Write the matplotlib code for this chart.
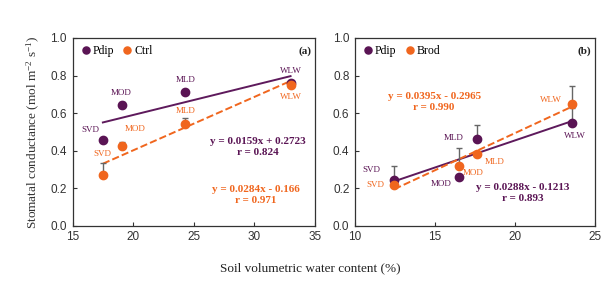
import matplotlib.pyplot as plt
import numpy as np

PURPLE = '#5a1454'
ORANGE = '#f0661e'
SERIF = 'Liberation Serif'

plt.rcParams['mathtext.fontset'] = 'custom'
plt.rcParams['mathtext.rm'] = SERIF
plt.rcParams['mathtext.it'] = SERIF + ':italic'
plt.rcParams['mathtext.default'] = 'rm'

# panel (a)
a_x = [17.5, 19.05, 24.3, 33.0]
a_pdip = [0.456, 0.642, 0.713, 0.762]
a_pdip_err = [0.0, 0.02, 0.0, 0.01]
a_ctrl = [0.270, 0.427, 0.544, 0.752]
a_ctrl_err = [0.065, 0.02, 0.03, 0.0]
a_pdip_fit = (0.0159, 0.2723)
a_ctrl_fit = (0.0284, -0.166)

# panel (b)
b_x = [12.46, 16.48, 17.63, 23.6]
b_pdip = [0.245, 0.262, 0.463, 0.550]
b_pdip_err = [0.075, 0.0, 0.075, 0.075]
b_brod = [0.218, 0.321, 0.381, 0.651]
b_brod_err = [0.0, 0.095, 0.0, 0.094]
b_pdip_fit = (0.0288, -0.1213)
b_brod_fit = (0.0395, -0.2965)

stages = ['SVD', 'MOD', 'MLD', 'WLW']


def style_axes(ax, xlim, xticks):
    ax.set_xlim(*xlim)
    ax.set_ylim(0, 1.0)
    ax.set_xticks(xticks)
    ax.set_yticks(np.arange(0, 1.01, 0.2))
    ax.set_yticklabels([f'{v:.1f}' for v in np.arange(0, 1.01, 0.2)])
    ax.tick_params(direction='in', length=3, width=0.8, colors='#333333',
                   labelsize=8.5, pad=4)
    for lab in ax.get_xticklabels() + ax.get_yticklabels():
        lab.set_fontfamily('Liberation Sans')
        lab.set_color('#333333')
    for s in ax.spines.values():
        s.set_color('#333333')
        s.set_linewidth(0.9)


def draw_series(ax, x, y, err, color, label, zorder):
    ax.errorbar(x, y, yerr=[np.zeros(len(err)), err], fmt='none',
                ecolor='#666666', elinewidth=1.0, capsize=2.5, capthick=1.0,
                zorder=zorder - 1)
    ax.plot(x, y, 'o', color=color, ms=6, label=label, zorder=zorder)


def draw_fit(ax, x, fit, color, ls):
    xs = np.array([min(x), max(x)])
    ax.plot(xs, fit[0] * xs + fit[1], ls, color=color, lw=1.4, zorder=2)


def label_points(ax, x, y, offsets, color):
    for i, name in enumerate(stages):
        ax.annotate(name, (x[i], y[i]), xytext=offsets[i],
                    textcoords='offset pixels', ha='center', va='center',
                    fontsize=6.5, family=SERIF, color=color)


def legend(ax):
    ax.legend(loc='upper left', ncol=2, frameon=False, handletextpad=0.1,
              columnspacing=0.6, borderaxespad=0.2, handlelength=1.0,
              prop={'family': SERIF, 'size': 8.5},
              markerscale=0.85)


def equation(ax, x, y, text, color):
    ax.text(x, y, text, transform=ax.transAxes, ha='center', va='center',
            family=SERIF, fontsize=8, weight='bold', color=color,
            linespacing=1.3)


fig = plt.figure(figsize=(6.1, 2.9), dpi=100)
ax1 = fig.add_axes([0.119, 0.221, 0.397, 0.648])
ax2 = fig.add_axes([0.582, 0.221, 0.393, 0.648])

# (a)
draw_fit(ax1, a_x, a_pdip_fit, '#5e1a5c', '-')
draw_fit(ax1, a_x, a_ctrl_fit, ORANGE, '--')
draw_series(ax1, a_x, a_pdip, a_pdip_err, PURPLE, 'Pdip', 4)
draw_series(ax1, a_x, a_ctrl, a_ctrl_err, ORANGE, 'Ctrl', 5)
label_points(ax1, a_x, a_pdip, [(-12, 10), (0, 12), (0, 12), (0, 12)], PURPLE)
label_points(ax1, a_x, a_ctrl, [(0, 21), (14, 17), (0, 13), (0, -12)], ORANGE)
equation(ax1, 0.765, 0.42, 'y = 0.0159x + 0.2723\nr = 0.824', PURPLE)
equation(ax1, 0.755, 0.165, 'y = 0.0284x - 0.166\nr = 0.971', ORANGE)
ax1.text(0.985, 0.955, '(a)', transform=ax1.transAxes, ha='right', va='top',
         family=SERIF, fontsize=8, weight='bold', color='#222222')
style_axes(ax1, (15, 35), [15, 20, 25, 30, 35])
legend(ax1)
ax1.set_ylabel('Stomatal conductance (mol m$^{-2}$ s$^{-1}$)', family=SERIF,
               fontsize=9.5, color='#333333', labelpad=6)

# (b)
draw_fit(ax2, b_x, b_pdip_fit, '#5e1a5c', '-')
draw_fit(ax2, b_x, b_brod_fit, ORANGE, '--')
draw_series(ax2, b_x, b_pdip, b_pdip_err, PURPLE, 'Pdip', 4)
draw_series(ax2, b_x, b_brod, b_brod_err, ORANGE, 'Brod', 5)
label_points(ax2, b_x, b_pdip, [(-23, 10), (-17, -7), (-23, 1), (3, -13)], PURPLE)
label_points(ax2, b_x, b_brod, [(-19, 0), (15, -7), (18, -8), (-21, 4)], ORANGE)
equation(ax2, 0.33, 0.66, 'y = 0.0395x - 0.2965\nr = 0.990', ORANGE)
equation(ax2, 0.7, 0.175, 'y = 0.0288x - 0.1213\nr = 0.893', PURPLE)
ax2.text(0.985, 0.955, '(b)', transform=ax2.transAxes, ha='right', va='top',
         family=SERIF, fontsize=8, weight='bold', color='#222222')
style_axes(ax2, (10, 25), [10, 15, 20, 25])
legend(ax2)

fig.text(0.508, 0.075, 'Soil volumetric water content (%)', ha='center',
         va='center', family=SERIF, fontsize=9.5, color='#222222')

fig.savefig('out.png', dpi=100)
